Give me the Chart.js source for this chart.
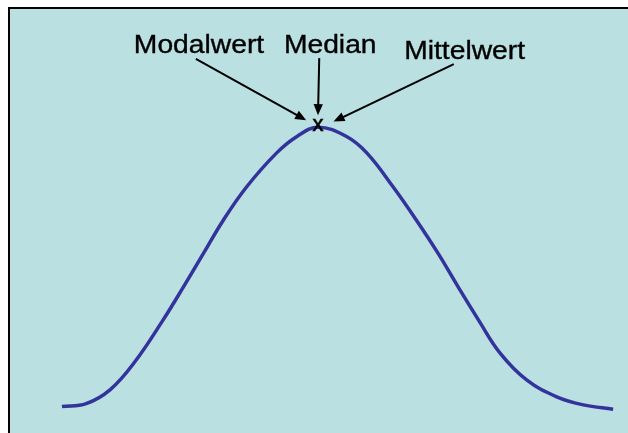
<!DOCTYPE html>
<html>
<head>
<meta charset="utf-8">
<script src="https://cdn.jsdelivr.net/npm/chart.js@4"></script>
<style>
  html, body { margin: 0; padding: 0; background: #ffffff; overflow: hidden; }
  #wrap { width: 628px; height: 433px; position: relative; }
</style>
</head>
<body>
<div id="wrap"><canvas id="curveChart"></canvas></div>
<script>
// Curve (horizontal position 0-100, height 0-100)
const curveX = [8.7, 12.6, 16.5, 20.4, 25.0, 28.3, 31.5, 34.7, 38.5, 43.3, 46.6, 50.0,
                54.6, 57.9, 62.1, 65.9, 69.4, 72.6, 75.9, 79.4, 83.7, 88.5, 92.8, 97.6];
const curveY = [6.2, 6.9, 10.2, 16.6, 26.5, 34.3, 42.1, 49.9, 57.8, 65.7, 69.6, 71.8,
                69.6, 65.7, 57.8, 49.9, 42.1, 34.3, 26.5, 18.7, 12.4, 8.5, 6.6, 5.6];

// Labels with arrows pointing at the peak
const labelNames = ["Modalwert", "Median", "Mittelwert"];
const labelX = [20.3, 44.5, 63.9];
const labelY = [89.2, 89.2, 87.8];
const arrowFromX = [30.3, 50.2, 71.9];
const arrowFromY = [87.8, 88.0, 86.6];
const arrowToX = [48.1, 50.0, 52.5];
const arrowToY = [73.4, 74.6, 73.1];
const peakX = 50.0;
const peakY = 71.8;

const colors = {
  panel: "#bae0e2",
  frame: "#000000",
  curve: "#33339c",
  text: "#000000"
};

const points = curveX.map((x, i) => ({ x: x, y: curveY[i] }));

/**
 * Panel background and the left/top frame lines
 */
const panelPlugin = {
  id: "panel",
  beforeDraw(chart) {
    const ctx = chart.ctx;
    const area = chart.chartArea;
    ctx.save();
    ctx.fillStyle = "#ffffff";
    ctx.fillRect(0, 0, chart.width, chart.height);
    ctx.fillStyle = colors.panel;
    ctx.fillRect(area.left, area.top, chart.width - area.left, chart.height - area.top);
    ctx.strokeStyle = colors.frame;
    ctx.lineWidth = 2;
    ctx.beginPath();
    ctx.moveTo(area.left + 1, chart.height);
    ctx.lineTo(area.left + 1, area.top + 1);
    ctx.lineTo(chart.width, area.top + 1);
    ctx.stroke();
    ctx.restore();
  }
};

/**
 * Text labels, arrows and the peak marker
 */
const notesPlugin = {
  id: "notes",
  afterDatasetsDraw(chart) {
    const ctx = chart.ctx;
    const xs = chart.scales.x;
    const ys = chart.scales.y;
    ctx.save();
    ctx.fillStyle = colors.text;
    ctx.strokeStyle = colors.text;

    // labels (text is a bit stretched horizontally in the original)
    ctx.font = "25px 'Liberation Sans', Arial, sans-serif";
    ctx.textBaseline = "alphabetic";
    ctx.textAlign = "left";
    ctx.lineWidth = 0.35;
    labelNames.forEach((name, i) => {
      ctx.save();
      ctx.translate(xs.getPixelForValue(labelX[i]), ys.getPixelForValue(labelY[i]));
      ctx.scale(1.13, 1);
      ctx.fillText(name, 0, 0);
      ctx.strokeText(name, 0, 0);
      ctx.restore();
    });

    // arrows
    ctx.lineWidth = 2;
    labelNames.forEach((name, i) => {
      const x0 = xs.getPixelForValue(arrowFromX[i]);
      const y0 = ys.getPixelForValue(arrowFromY[i]);
      const x1 = xs.getPixelForValue(arrowToX[i]);
      const y1 = ys.getPixelForValue(arrowToY[i]);
      const ang = Math.atan2(y1 - y0, x1 - x0);
      const head = 12;
      const spread = 0.4;
      const bx = x1 - (head - 2) * Math.cos(ang);
      const by = y1 - (head - 2) * Math.sin(ang);
      ctx.beginPath();
      ctx.moveTo(x0, y0);
      ctx.lineTo(bx, by);
      ctx.stroke();
      ctx.beginPath();
      ctx.moveTo(x1, y1);
      ctx.lineTo(x1 - head * Math.cos(ang - spread), y1 - head * Math.sin(ang - spread));
      ctx.lineTo(x1 - head * Math.cos(ang + spread), y1 - head * Math.sin(ang + spread));
      ctx.closePath();
      ctx.fill();
    });

    // "x" marker at the peak
    ctx.font = "22px 'Liberation Sans', Arial, sans-serif";
    ctx.textAlign = "center";
    ctx.textBaseline = "middle";
    ctx.lineWidth = 0.6;
    const mx = xs.getPixelForValue(peakX);
    const my = ys.getPixelForValue(peakY) - 2;
    ctx.fillText("x", mx, my);
    ctx.strokeText("x", mx, my);
    ctx.restore();
  }
};

new Chart(document.getElementById("curveChart"), {
  type: "line",
  data: {
    datasets: [
      {
        label: "Verteilung",
        data: points,
        borderColor: colors.curve,
        backgroundColor: "transparent",
        borderWidth: 3.5,
        pointRadius: 0,
        tension: 0.4,
        borderCapStyle: "butt"
      }
    ]
  },
  options: {
    responsive: true,
    maintainAspectRatio: false,
    animation: false,
    layout: {
      padding: { left: 8, top: 7, right: 0, bottom: 0 }
    },
    scales: {
      x: { type: "linear", min: 0, max: 100, display: false },
      y: { type: "linear", min: 0, max: 100, display: false }
    },
    plugins: {
      legend: { display: false },
      tooltip: { enabled: false }
    }
  },
  plugins: [panelPlugin, notesPlugin]
});
</script>
</body>
</html>
